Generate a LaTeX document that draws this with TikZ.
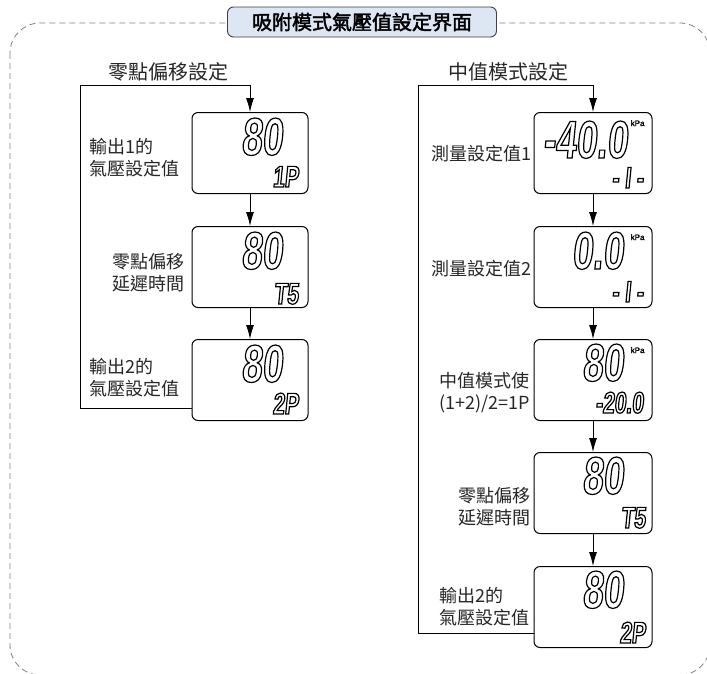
\documentclass[tikz,border=0pt]{standalone}
\usepackage{fontspec}
\setmainfont{Noto Sans CJK TC}
\newfontfamily\titrefont[FakeBold=2]{Noto Sans CJK TC}
\newfontfamily\lcdfont[FakeSlant=0.1,FakeStretch=0.7]{Liberation Sans}
\newfontfamily\unitefont[FakeBold=1.5]{Liberation Sans}
\newcommand\creux[1]{\special{pdf:literal direct 1 Tr 1.2 w}#1\special{pdf:literal direct 0 Tr}}
\usetikzlibrary{arrows.meta}
\definecolor{bleutitre}{HTML}{DCE7F3}

\begin{document}
\begin{tikzpicture}[x=1pt,y=-1pt]
\tikzset{ecran/.style={draw, line width=1pt, rounded corners=6pt, minimum width=116pt, minimum height=81pt, inner sep=0pt}}
\tikzset{legende/.style={font=\fontsize{18}{22}\selectfont, text=black!85, inner sep=0pt, anchor=east}}
\tikzset{chiffres/.style={font=\lcdfont\bfseries\fontsize{53}{53}\selectfont, inner sep=0pt, anchor=base east}}
\tikzset{petits/.style={font=\lcdfont\bfseries\fontsize{30}{30}\selectfont, inner sep=0pt, anchor=base east}}
\tikzset{unite/.style={font=\unitefont\fontsize{8}{8}\selectfont, inner sep=0pt, anchor=north west}}
\tikzset{fleche/.style={-{Latex[length=14pt,width=8pt]}, line width=0.9pt}}
\useasboundingbox (0,0) rectangle (707,673);
\draw[gray, dash pattern=on 6pt off 4pt, line width=0.8pt, rounded corners=30pt] (10,23) rectangle (710,675);
\node[draw=black!75, line width=0.9pt, fill=bleutitre, rounded corners=6pt, minimum width=269pt, minimum height=30pt, font=\titrefont\fontsize{20}{20}\selectfont] (T) at (362,22) {吸附模式氣壓值設定界面};
\node[font=\fontsize{20}{20}\selectfont, text=black!85] (H1) at (168,72) {零點偏移設定};
\node[font=\fontsize{20}{20}\selectfont, text=black!85] (H2) at (508,72) {中值模式設定};
\node[ecran] (E1) at (250,153) {};
\node[ecran] (E2) at (250,267) {};
\node[ecran] (E3) at (250,380) {};
\node[ecran, minimum width=118pt] (F1) at (593,153) {};
\node[ecran, minimum width=118pt] (F2) at (593,267) {};
\node[ecran, minimum width=118pt] (F3) at (593,380) {};
\node[ecran, minimum width=118pt] (F4) at (593,493) {};
\node[ecran, minimum width=118pt] (F5) at (593,607) {};
\node[chiffres] (GE1) at ([xshift=-26pt,yshift=-43pt]E1.north east) {\creux{80}};
\node[chiffres] (GE2) at ([xshift=-26pt,yshift=-43pt]E2.north east) {\creux{80}};
\node[chiffres] (GE3) at ([xshift=-26pt,yshift=-43pt]E3.north east) {\creux{80}};
\node[chiffres] (GF1) at ([xshift=-25pt,yshift=-46pt]F1.north east) {\creux{-40.0}};
\node[chiffres] (GF2) at ([xshift=-29pt,yshift=-43pt]F2.north east) {\creux{0.0}};
\node[chiffres] (GF3) at ([xshift=-29pt,yshift=-42pt]F3.north east) {\creux{80}};
\node[chiffres] (GF4) at ([xshift=-29pt,yshift=-42pt]F4.north east) {\creux{80}};
\node[chiffres] (GF5) at ([xshift=-29pt,yshift=-42pt]F5.north east) {\creux{80}};
\node[unite] (UF1) at ([xshift=-22pt,yshift=-8pt]F1.north east) {kPa};
\node[unite] (UF2) at ([xshift=-22pt,yshift=-8pt]F2.north east) {kPa};
\node[unite] (UF3) at ([xshift=-22pt,yshift=-8pt]F3.north east) {kPa};
\node[petits] (PE1) at ([xshift=-10pt,yshift=7pt]E1.south east) {\creux{1P}};
\node[petits] (PE2) at ([xshift=-10pt,yshift=4pt]E2.south east) {\creux{T5}};
\node[petits] (PE3) at ([xshift=-10pt,yshift=7pt]E3.south east) {\creux{2P}};
\node[petits] (PF1) at ([xshift=-9pt,yshift=6pt]F1.south east) {\creux{- I -}};
\node[petits] (PF2) at ([xshift=-9pt,yshift=6pt]F2.south east) {\creux{- I -}};
\node[petits] (PF3) at ([xshift=-9pt,yshift=8pt]F3.south east) {\creux{-20.0}};
\node[petits] (PF4) at ([xshift=-7pt,yshift=6pt]F4.south east) {\creux{T5}};
\node[petits] (PF5) at ([xshift=-7pt,yshift=5pt]F5.south east) {\creux{2P}};
\node[legende, align=left] (LE1) at ([xshift=-12pt,yshift=-5pt]E1.west) {輸出1的\\氣壓設定值};
\node[legende, align=right] (LE2) at ([xshift=-7pt,yshift=-6pt]E2.west) {零點偏移\\延遲時間};
\node[legende, align=left] (LE3) at ([xshift=-12pt,yshift=2pt]E3.west) {輸出2的\\氣壓設定值};
\node[legende] (LF1) at ([xshift=-2pt,yshift=-1pt]F1.west) {測量設定值1};
\node[legende] (LF2) at ([xshift=-2pt,yshift=-2pt]F2.west) {測量設定值2};
\node[legende, align=left] (LF3) at ([xshift=-3pt,yshift=-13pt]F3.west) {中值模式使\\(1+2)/2=1P};
\node[legende, align=right] (LF4) at ([xshift=-3pt,yshift=-14pt]F4.west) {零點偏移\\延遲時間};
\node[legende, align=left] (LF5) at ([xshift=-4pt,yshift=0pt]F5.west) {輸出2的\\氣壓設定值};
\coordinate (C1) at (80,85);
\coordinate (C2) at (418,85);
\draw[fleche] (E1) -- (E2);
\draw[fleche] (E2) -- (E3);
\draw[fleche] ([yshift=13pt]E3.south west) -| (C1) -| (E1.north);
\draw[fleche] (F1) -- (F2);
\draw[fleche] (F2) -- (F3);
\draw[fleche] (F3) -- (F4);
\draw[fleche] (F4) -- (F5);
\draw[fleche] ([yshift=15pt]F5.south west) -| (C2) -| (F1.north);
\end{tikzpicture}
\end{document}
